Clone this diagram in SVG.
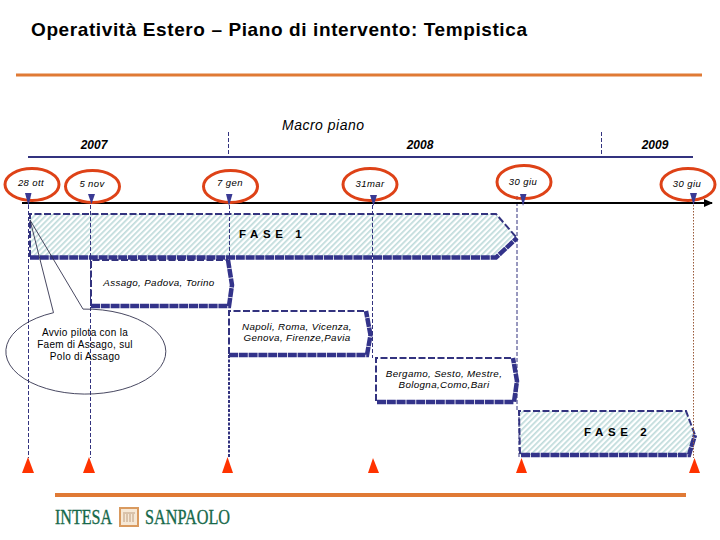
<svg xmlns="http://www.w3.org/2000/svg" width="720" height="540" viewBox="0 0 720 540">
<style>
text{font-family:"Liberation Sans",Arial,sans-serif;fill:#000}
.title{font-size:19px;font-weight:bold}
.year{font-size:12px;font-weight:bold;font-style:italic;text-anchor:middle}
.macro{font-size:14px;font-style:italic;letter-spacing:.5px;-webkit-text-stroke:0.3px #000}
.date{font-size:9.500px;font-style:italic;text-anchor:middle;letter-spacing:.4px}
.lbl{font-size:9.800px;font-style:italic;text-anchor:middle;letter-spacing:.35px}
.note{font-size:10px;text-anchor:middle;letter-spacing:.3px}
.fase{font-size:11.500px;font-weight:bold;letter-spacing:4.6px}
.oval{fill:none;stroke:#de4217;stroke-width:3}
.thin{fill:none;stroke:#33337f;stroke-width:2;stroke-dasharray:7 2.5}
.thick{fill:none;stroke:#33338a;stroke-width:4.500;stroke-dasharray:9 .8}
.v{fill:none;stroke:#33337f;stroke-width:1;stroke-dasharray:4 2}
.mark{fill:#3a3a94}
.red{fill:#ff3300}
.orange{stroke:#e07a35;fill:none}
.logo{font-family:"Liberation Serif",serif;font-size:21px;fill:#17694a;stroke:#17694a;stroke-width:.35}
</style>
<defs>
<pattern id="hatch" width="4" height="4" patternUnits="userSpaceOnUse" patternTransform="rotate(45)">
<rect width="4" height="4" fill="#fff"/>
<rect width="1.700" height="4" fill="#bfdbdb"/>
</pattern>
<marker id="arrow" markerUnits="userSpaceOnUse" markerWidth="9" markerHeight="8" refX="8" refY="4" orient="auto"><path d="M0 0L9 4L0 8Z" fill="#000"/></marker>
</defs>

<g id="header">
<text class="title" x="31" y="36" textLength="496" lengthAdjust="spacing">Operatività Estero –  Piano di intervento: Tempistica</text>
<path class="orange" stroke-width="3" d="M16 75H702"/>
<text class="macro" x="282" y="130">Macro piano</text>
</g>

<g id="years">
<path d="M28 157H693" stroke="#33337f" stroke-width="2" fill="none"/>
<path class="v" d="M228.500 132V157M601.500 132V157"/>
<text class="year" x="94" y="149">2007</text>
<text class="year" x="420" y="149">2008</text>
<text class="year" x="655" y="149">2009</text>
</g>

<g id="phases">
<g id="fase1">
<path fill="url(#hatch)" d="M30 214H496L517 238L496 257H30Z"/>
<path class="thin" d="M30 257V214H496L517 238"/>
<path class="thick" stroke-width="5" d="M30 257.500H496L517 238"/>
<text class="fase" x="239" y="238">FASE 1</text>
</g>
<g id="assago">
<path fill="#fff" d="M91 260H228L232 284L228 306H91Z"/>
<path class="thin" d="M91 306V260H228"/>
<path class="thick" d="M91 306H229L232 285L228 260"/>
<text class="lbl" x="159" y="286">Assago, Padova, Torino</text>
</g>
<g id="napoli">
<path class="thin" fill="#fff" d="M229 354V311H366"/>
<path class="thick" d="M229 355H367L370.500 335L366 311"/>
<text class="lbl" x="297" y="330">Napoli, Roma, Vicenza,</text>
<text class="lbl" x="297" y="341">Genova, Firenze,Pavia</text>
</g>
<g id="bergamo">
<path class="thin" d="M376 401V358H513"/>
<path class="thick" d="M377 402H514L517 381L513 358"/>
<text class="lbl" x="444" y="377">Bergamo, Sesto, Mestre,</text>
<text class="lbl" x="444" y="388">Bologna,Como,Bari</text>
</g>
<g id="fase2">
<path fill="url(#hatch)" d="M519 411H686L695 435L689 455H520Z"/>
<path class="thin" d="M520 454L519 411H686L695 435"/>
<path class="thick" d="M521 455H689L695 435"/>
<text class="fase" x="584" y="436">FASE 2</text>
</g>
</g>

<g id="connectors">
<path class="v" d="M28.500 205V458M90.500 205V458M229.500 205V260M372.500 205V358M517 196V411M519 411V458"/>
<path d="M229 355V458" stroke="#33337f" stroke-width="2" stroke-dasharray="3 1.500" fill="none"/>
<path d="M693.500 205V458" stroke="#9a5a3a" stroke-width="1" stroke-dasharray="1.500 1.500" fill="none"/>
<path d="M22 203H712" stroke="#000" stroke-width="2" fill="none" marker-end="url(#arrow)"/>
</g>

<g id="callout">
<path fill="none" stroke="#33334f" stroke-width=".9" d="M30 220L53.500 312.700A80 42.500 0 1 0 83 309.100Z"/>
<text class="note" x="85" y="336">Avvio pilota con la</text>
<text class="note" x="85" y="348">Faem di Assago, sul</text>
<text class="note" x="85" y="360">Polo di Assago</text>
</g>

<g id="m1"><ellipse class="oval" cx="32" cy="184.500" rx="27" ry="16"/><text class="date" x="31" y="186">28 ott</text><path class="mark" d="M25 193H31.500L28.500 206Z"/></g>
<g id="m2"><ellipse class="oval" cx="92.500" cy="186.500" rx="27" ry="16"/><text class="date" x="92" y="187">5 nov</text><path class="mark" d="M88 194H95L91.500 204Z"/></g>
<g id="m3"><ellipse class="oval" cx="230.500" cy="186.500" rx="27" ry="16"/><text class="date" x="230" y="186">7 gen</text><path class="mark" d="M226 194H232.500L229 206Z"/></g>
<g id="m4"><ellipse class="oval" cx="370" cy="184.500" rx="27" ry="16"/><text class="date" x="370" y="187">31mar</text><path class="mark" d="M370 195H377L373.500 206Z"/></g>
<g id="m5"><ellipse class="oval" cx="524" cy="182" rx="27" ry="16.500"/><text class="date" x="523" y="185">30 giu</text><path class="mark" d="M520 194H526.500L523 206Z"/></g>
<g id="m6"><ellipse class="oval" cx="688" cy="184.500" rx="27" ry="16"/><text class="date" x="687" y="187">30 giu</text><path class="mark" d="M690 193H697L693.500 205Z"/></g>

<g id="milestones">
<path class="red" d="M28 457L34 473H22Z"/>
<path class="red" d="M89 457L95 473H83Z"/>
<path class="red" d="M227.500 457L233 473H222Z"/>
<path class="red" d="M373 458L379 473H368Z"/>
<path class="red" d="M521.500 458L527 473H516Z"/>
<path class="red" d="M694.500 458L700 473H689Z"/>
</g>

<g id="footer">
<path class="orange" stroke-width="4" d="M55 495H686"/>
<text class="logo" x="55" y="524" textLength="57" lengthAdjust="spacingAndGlyphs">INTESA</text>
<rect x="120" y="508" width="18" height="18" fill="#f6e8d6" stroke="#d99a5f" stroke-width="2"/>
<path d="M123 513H135M124 514V522M127 514V522M130 514V522M133 514V522" stroke="#b08a6a" stroke-width=".8" fill="none"/>
<text class="logo" x="145" y="524" textLength="85" lengthAdjust="spacingAndGlyphs">SANPAOLO</text>
</g>
</svg>
